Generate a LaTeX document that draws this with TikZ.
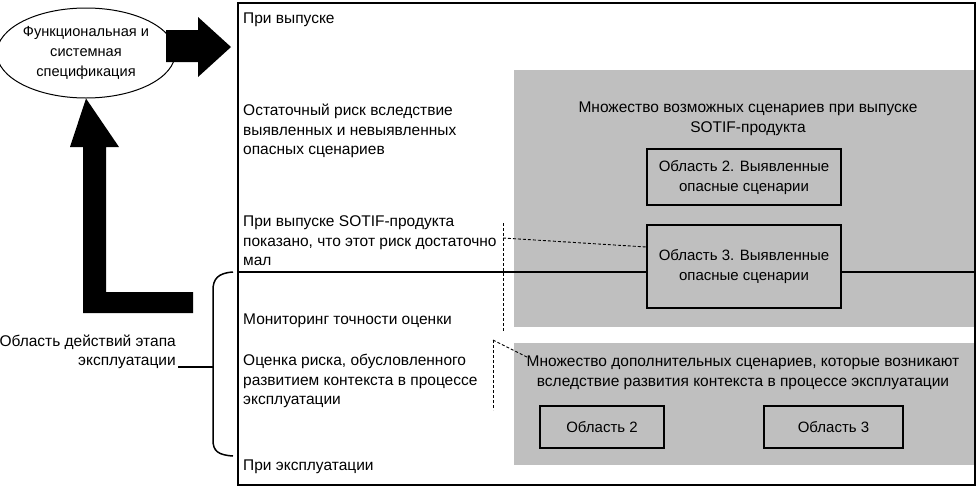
\documentclass[tikz,border=0pt]{standalone}
\usepackage{fontspec}
\setmainfont{Liberation Sans}
\usetikzlibrary{shapes.geometric}
\definecolor{graybg}{RGB}{191,191,191}
\begin{document}
\begin{tikzpicture}[x=1pt,y=-1pt,
  every node/.style={font=\fontsize{15.5}{19.5}\selectfont, inner sep=0pt},
  lbl/.style={anchor=west, align=left},
  ctr/.style={align=center},
  graypanel/.style={fill=graybg, draw=none},
  areabox/.style={draw, line width=1.4pt, fill=graybg, minimum width=194pt, font=\fontsize{15}{20}\selectfont},
  smallbox/.style={draw, line width=1.4pt, fill=graybg, minimum height=42pt, font=\fontsize{15}{20}\selectfont},
  dashline/.style={line width=0.9pt, dash pattern=on 3pt off 2pt},
  bigarrow/.style={fill=black, draw=none}]
\useasboundingbox (0,0) rectangle (978,488);
% gray panels
\fill[graypanel] (514,70) rectangle (975,327);
\fill[graypanel] (514,343) rectangle (975,465);
% separator line
\coordinate (sepL) at (238,272);
\coordinate (sepR) at (975,272);
\draw[line width=1.4pt] (sepL) -- (sepR);
% main frame
\draw[line width=2pt] (238,3) rectangle (975,485);
% inner boxes
\node[areabox, minimum height=56pt] (a2) at (744,177) {\begin{tabular}{@{}c@{}}Область 2. Выявленные\\опасные сценарии\end{tabular}};
\node[areabox, minimum height=83pt] (a3) at (744,266.5) {\begin{tabular}{@{}c@{}}Область 3. Выявленные\\опасные сценарии\end{tabular}};
\node[smallbox, minimum width=124pt] (o2) at (602,427) {Область 2};
\node[smallbox, minimum width=139pt] (o3) at (833.5,427) {Область 3};
% panel titles
\node[ctr] (t1) at (748,119) {Множество возможных сценариев при выпуске\\SOTIF-продукта};
\node[ctr] (t2) at (743,373) {Множество дополнительных сценариев, которые возникают\\вследствие развития контекста в процессе эксплуатации};
% left column texts
\node[lbl] (l1) at (243,20) {При выпуске};
\node[lbl] (l2) at (243,131) {Остаточный риск вследствие\\выявленных и невыявленных\\опасных сценариев};
\node[lbl] (l3) at (243,241) {При выпуске SOTIF-продукта\\показано, что этот риск достаточно\\мал};
\node[lbl] (l4) at (243,321) {Мониторинг точности оценки};
\node[lbl] (l5) at (243,381) {Оценка риска, обусловленного\\развитием контекста в процессе\\эксплуатации};
\node[lbl] (l6) at (243,467) {При эксплуатации};
% dashed connectors
\coordinate (d1t) at (503,223);
\coordinate (d1b) at (503,332);
\coordinate (d1m) at (503,238);
\draw[dashline] (d1t) -- (d1b);
\draw[dashline] (d1m) -- (a3.west |- 0,247);
\coordinate (d2t) at (493,340);
\coordinate (d2b) at (493,410);
\coordinate (d2e) at (527,357);
\draw[dashline] (d2t) -- (d2b);
\draw[dashline] (d2t) -- (d2e);
% ellipse
\node[ellipse, draw, line width=1pt, minimum width=162pt, minimum height=90pt, align=center, font=\fontsize{14.6}{20}\selectfont] (spec) at (86,53) {Функциональная и\\системная\\спецификация};
% right big arrow
\fill[bigarrow] (166,30) -- (198,30) -- (198,17) -- (231,47) -- (198,77) -- (198,62) -- (166,62) -- cycle;
% L-shaped up arrow
\fill[bigarrow] (193,292) -- (193,313) -- (83,313) -- (83,147) -- (70,147) -- (spec.south) -- (119,147) -- (106,147) -- (106,292) -- cycle;
% brace
\draw[line width=1.5pt] (233,272) .. controls (218,273) and (213,279) .. (213,290) -- (213,440) .. controls (213,451) and (218,455) .. (233,456);
\coordinate (bm) at (213,367);
\coordinate (bs) at (178,367);
\draw[line width=1.5pt] (bs) -- (bm);
\node[anchor=east, align=right] (ops) at (176,352) {Область действий этапа\\эксплуатации};
\end{tikzpicture}
\end{document}
